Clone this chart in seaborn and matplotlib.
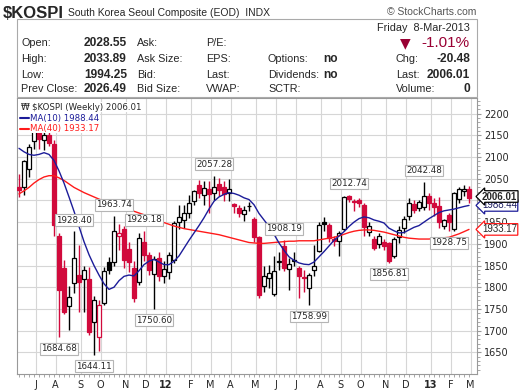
import matplotlib
matplotlib.use("Agg")
import matplotlib.pyplot as plt
import matplotlib.transforms as mtransforms
from matplotlib.patches import Rectangle
import seaborn as sns
import pandas as pd
import numpy as np

# weekly candles, Friday of each week
weeks = pd.date_range("2011-06-17", periods=91, freq="7D")

opens = [2030, 2031, 2072, 2138, 2172, 2140, 2150, 2130, 1917, 1845,
         1757, 1809, 1828, 1818, 1818, 1719, 1686, 1763, 1858, 1857,
         1918, 1934, 1888, 1845, 1813, 1905, 1875, 1830, 1868, 1826,
         1835, 1862, 1950, 1956, 1972, 1998, 2036, 2012, 2026, 2017,
         2038, 2032, 2018, 1992, 1983, 1968, 1986, 1958, 1915, 1802,
         1821, 1785, 1857, 1894, 1842, 1860, 1845, 1824, 1798, 1840,
         1883, 1950, 1944, 1910, 1906, 1935, 2010, 1999, 2002, 1990,
         1928, 1910, 1900, 1904, 1902, 1872, 1915, 1936, 1963, 1992,
         1982, 1985, 2011, 1993, 1987, 1940, 1966, 1935, 2003, 2022, 2027]
highs = [2060, 2094, 2130, 2185, 2180, 2175, 2175, 2140, 1925, 1862,
         1802, 1928.40, 1898, 1850, 1847, 1780, 1770, 1846, 1870, 1963.74,
         1945, 1940, 1905, 1860, 1925, 1929.18, 1880, 1872, 1880, 1860,
         1880, 1952, 1990, 1990, 2013, 2025, 2048, 2045, 2045, 2057.28,
         2052, 2045, 2049, 1995, 1990, 1986, 1996, 1962, 1918, 1848,
         1852, 1872, 1880, 1908.19, 1867, 1882, 1848, 1840, 1832, 1897,
         1950, 1962, 1948, 1918, 1930, 2010, 2012.74, 2003, 2005, 1993,
         1950, 1917, 1924, 1910, 1905, 1915, 1940, 1965, 2005, 2000,
         2002, 2042.48, 2017, 2005, 2008, 1958, 1970, 2020, 2030, 2035, 2033.89]
lows = [2008, 2013, 2055, 2118, 2118, 2116, 2125, 1917, 1684.68, 1738,
        1702, 1787, 1744, 1744, 1690, 1644.11, 1652, 1760, 1830, 1850,
        1885, 1845, 1835, 1765, 1805, 1860, 1828, 1750.60, 1815, 1810,
        1820, 1855, 1935, 1936, 1960, 1990, 2005, 1990, 1971, 2000,
        2010, 1998, 1998, 1971, 1962, 1952, 1975, 1905, 1776, 1790,
        1798, 1779, 1840, 1838, 1794, 1850, 1775, 1790, 1758.99, 1825,
        1880, 1930, 1905, 1895, 1871, 1930, 1996, 1975, 1985, 1917,
        1917, 1886, 1890, 1885, 1856.81, 1868, 1902, 1926, 1955, 1971,
        1975, 1978, 1978, 1963, 1936, 1935, 1928.75, 1930, 1995, 2010, 1994.25]
closes = [2025, 2090, 2123, 2180, 2142, 2150, 2133, 1943, 1793, 1744,
          1777, 1867, 1812, 1840, 1697, 1769.65, 1759, 1837, 1840, 1929,
          1926, 1863, 1858, 1776, 1913, 1874, 1840, 1866, 1826, 1843,
          1875, 1949, 1962, 1971, 1993, 2021, 2018, 2029, 2015, 2031,
          2025, 2014, 2027, 1986, 1972, 1977, 1988, 1915, 1782, 1825,
          1833, 1838, 1860, 1845, 1854, 1862, 1826, 1821, 1829, 1848,
          1944, 1946, 1914, 1906, 1926, 2007, 2004, 1996, 1993, 1938,
          1941, 1891, 1919, 1895, 1860, 1910, 1932, 1957, 1994, 1978,
          1997, 2011, 1995, 1985, 1950, 1956, 1950, 2017, 2026, 2027, 2006.01]
ma10 = [2120, 2112, 2106, 2104, 2106, 2110, 2106, 2092, 2068, 2040,
        2008, 1975, 1940, 1905, 1875, 1850, 1828, 1808, 1795, 1800,
        1815, 1825, 1828, 1826, 1838, 1852, 1860, 1864, 1858, 1852,
        1852, 1860, 1872, 1890, 1908, 1925, 1942, 1960, 1980, 1998,
        2008, 2014, 2018, 2016, 2012, 2006, 2002, 1990, 1970, 1955,
        1940, 1922, 1902, 1885, 1870, 1862, 1856, 1853, 1852, 1858,
        1870, 1882, 1895, 1908, 1918, 1928, 1940, 1950, 1958, 1962,
        1960, 1955, 1952, 1948, 1936, 1930, 1925, 1926, 1932, 1938,
        1942, 1950, 1958, 1965, 1972, 1976, 1978, 1980, 1983, 1986, 1988.44]
ma40 = [2015, 2022, 2030, 2040, 2048, 2054, 2057, 2057, 2052, 2046,
        2038, 2030, 2024, 2018, 2013, 2008, 2003, 1999, 1996, 1993,
        1988, 1983, 1979, 1975, 1971, 1967, 1963, 1958, 1953, 1949,
        1945, 1941, 1938, 1935, 1933, 1931, 1929, 1927, 1925, 1923,
        1921, 1918, 1915, 1912, 1909, 1906, 1903, 1902, 1901, 1901,
        1902, 1903, 1904, 1905, 1906, 1906, 1907, 1907, 1907, 1907,
        1909, 1911, 1913, 1915, 1918, 1922, 1926, 1929, 1931, 1932,
        1932, 1931, 1929, 1927, 1924, 1921, 1918, 1915, 1913, 1912,
        1911, 1911, 1911, 1912, 1913, 1914, 1915, 1919, 1923, 1928, 1933.17]

month_labels = ["J", "A", "S", "O", "N", "D", "12", "F", "M", "A", "M",
                "J", "J", "A", "S", "O", "N", "D", "13", "F", "M"]

# (week index, 'high' or 'low') of the value call-outs
callouts = [(8, "low"), (11, "high"), (15, "low"), (19, "high"), (25, "high"),
            (27, "low"), (39, "high"), (53, "high"), (58, "low"), (66, "high"),
            (74, "low"), (81, "high"), (86, "low")]

RED = "#d10a3c"
NAVY = "#1c1c99"
MA_RED = "#ff1a1a"
GRID = "#d6d6d6"
HDR = "Liberation Sans"

sns.set_style("white")
plt.rcParams["font.family"] = ["DejaVu Sans"]

W, H = 520, 391
fig = plt.figure(figsize=(W / 100, H / 100), dpi=100)


def fx(x):
    return x / W


def fy(y):
    return 1 - y / H


ax = fig.add_axes([fx(17), fy(374), fx(477) - fx(17), fy(98) - fy(374)])

x = np.arange(len(closes))
o = np.array(opens, float)
c = np.array(closes, float)
h = np.array(highs, float)
lo = np.array(lows, float)
prev = np.r_[o[0], c[:-1]]
cols = np.where(c < prev, RED, "black")
hollow = c >= o
faces = np.where(hollow, "white", cols)

ax.vlines(x, lo, h, colors=cols, lw=1, zorder=3)
ax.bar(x, np.maximum(np.abs(c - o), 0.9), bottom=np.minimum(o, c), width=0.74,
       color=faces, edgecolor=cols, linewidth=0.9, zorder=4)

sns.lineplot(x=x, y=ma40, ax=ax, color=MA_RED, lw=1, zorder=5)
sns.lineplot(x=x, y=ma10, ax=ax, color=NAVY, lw=1, zorder=5)

ax.set_xlim(-0.4, 91.6)
ax.set_ylim(1600, 2236)

# month gridlines: first week whose Monday falls in a new month
mon = weeks - pd.Timedelta(days=4)
starts = [i for i in range(1, len(weeks)) if mon[i].month != mon[i - 1].month]
ax.set_xticks([s + 0.3 for s in starts])
ax.set_xticklabels(month_labels)
for lab in ax.get_xticklabels():
    if lab.get_text() in ("12", "13"):
        lab.set_fontweight("bold")
ax.set_xticks(x, minor=True)
ax.yaxis.tick_right()
ax.set_yticks(range(1650, 2201, 50))
ax.set_yticks(range(1610, 2236, 10), minor=True)
ax.tick_params(axis="both", which="major", labelsize=7, length=3, color="#999999", pad=2)
ax.tick_params(axis="x", which="major", length=0, pad=4)
ax.tick_params(axis="both", which="minor", length=2, color="#999999")
ax.tick_params(axis="x", which="minor", bottom=True)
ax.tick_params(axis="y", which="minor", right=True)
ax.grid(True, color=GRID, lw=0.8, zorder=0)
for s in ax.spines.values():
    s.set_color("#999999")
    s.set_linewidth(0.8)
ax.set_xlabel("")
ax.set_ylabel("")

# value call-outs
for i, side in callouts:
    if side == "high":
        ax.annotate(f"{highs[i]:.2f}", (i, highs[i]), xytext=(0, 5), textcoords="offset points",
                    ha="center", va="bottom", fontsize=6.3, zorder=8,
                    bbox=dict(boxstyle="square,pad=0.15", fc="white", ec="#b5b5b5", lw=0.8))
    else:
        ax.annotate(f"{lows[i]:.2f}", (i, lows[i]), xytext=(0, -5), textcoords="offset points",
                    ha="center", va="top", fontsize=6.3, zorder=8,
                    bbox=dict(boxstyle="square,pad=0.15", fc="white", ec="#b5b5b5", lw=0.8))

# price tags on the right axis
tr = mtransforms.blended_transform_factory(ax.transAxes, ax.transData)
tag_x = (482 - 17) / 460
ax.text(tag_x, ma40[-1], f"{ma40[-1]:.2f}", transform=tr, fontsize=7, family=HDR, va="center",
        clip_on=False, zorder=9, bbox=dict(boxstyle="larrow,pad=0.08", fc="white", ec=MA_RED, lw=0.9))
ax.text(tag_x, ma10[-1], f"{ma10[-1]:.2f}", transform=tr, fontsize=7, family=HDR, va="center",
        color="#1c1c60", clip_on=False, zorder=9,
        bbox=dict(boxstyle="larrow,pad=0.08", fc="white", ec=NAVY, lw=0.9))
ax.text(tag_x, closes[-1] + 3, f"{closes[-1]:.2f}", transform=tr, fontsize=7, family=HDR,
        fontweight="bold", va="center", clip_on=False, zorder=10,
        bbox=dict(boxstyle="larrow,pad=0.08", fc="white", ec="black", lw=0.9))

# legend block
fig.patches.append(Rectangle((fx(18), fy(133)), fx(100) - fx(18), fy(99) - fy(133),
                             transform=fig.transFigure, fc="white", ec="none", zorder=20))
fig.text(fx(32), fy(107), f"$KOSPI (Weekly) {closes[-1]:.2f}", fontsize=6.2, va="center",
         zorder=21, bbox=dict(boxstyle="square,pad=0.1", fc="white", ec="none"))
fig.text(fx(21), fy(107), "\u20a9", fontsize=6.4, va="center", zorder=21)
fig.lines.append(plt.Line2D([fx(20), fx(29)], [fy(118)] * 2, color=NAVY, lw=1.5,
                            transform=fig.transFigure, zorder=21))
fig.text(fx(30), fy(118), f"MA(10) {ma10[-1]:.2f}", fontsize=6.2, color=NAVY, va="center", zorder=21)
fig.lines.append(plt.Line2D([fx(20), fx(29)], [fy(129)] * 2, color=MA_RED, lw=1.5,
                            transform=fig.transFigure, zorder=21))
fig.text(fx(30), fy(129), f"MA(40) {ma40[-1]:.2f}", fontsize=6.2, color=MA_RED, va="center", zorder=21)

# header
fig.text(fx(3), fy(13), "$KOSPI", fontsize=12, fontweight="bold", family=HDR, va="center")
fig.text(fx(68), fy(13), "South Korea Seoul Composite (EOD)  INDX", fontsize=7.5, family=HDR, va="center")
fig.text(fx(476), fy(12), "\u00a9 StockCharts.com", fontsize=7.5, family=HDR, va="center",
         ha="right", color="#555555")
fig.patches.append(Rectangle((fx(17), fy(97)), fx(477) - fx(17), fy(19) - fy(97),
                             transform=fig.transFigure, fc="none", ec="#aaaaaa", lw=0.8))

rows = [43, 59, 74.5, 89.5]
col1 = ["Open:", "High:", "Low:", "Prev Close:"]
vals1 = ["2028.55", "2033.89", "1994.25", "2026.49"]
col2 = ["Ask:", "Ask Size:", "Bid:", "Bid Size:"]
col3 = ["P/E:", "EPS:", "Last:", "VWAP:"]
col4 = ["Options:", "Dividends:", "SCTR:"]
vals4 = ["no", "no"]
col5 = ["Chg:", "Last:", "Volume:"]
vals5 = ["-20.48", "2006.01", "0"]
for k, y in enumerate(rows):
    fig.text(fx(21), fy(y), col1[k], fontsize=7.8, family=HDR, va="center")
    fig.text(fx(127), fy(y), vals1[k], fontsize=8.6, family=HDR, fontweight="bold", va="center", ha="right")
    fig.text(fx(137), fy(y), col2[k], fontsize=7.8, family=HDR, va="center")
    fig.text(fx(206), fy(y), col3[k], fontsize=7.8, family=HDR, va="center")
for k, y in enumerate(rows[1:]):
    fig.text(fx(268), fy(y), col4[k], fontsize=7.8, family=HDR, va="center")
    if k < len(vals4):
        fig.text(fx(323), fy(y), vals4[k], fontsize=8.6, family=HDR, fontweight="bold", va="center")
    fig.text(fx(396), fy(y), col5[k], fontsize=7.8, family=HDR, va="center")
    fig.text(fx(470), fy(y), vals5[k], fontsize=8.6, family=HDR, fontweight="bold", va="center", ha="right")
fig.text(fx(470), fy(28), "Friday  8-Mar-2013", fontsize=7.8, family=HDR, va="center", ha="right")
fig.text(fx(405), fy(43), "\u25bc", fontsize=10, color="#990033", va="center", ha="center")
fig.text(fx(470), fy(43), "-1.01%", fontsize=11, color="#990033", family=HDR, va="center", ha="right")

fig.savefig("out.png", dpi=100)
